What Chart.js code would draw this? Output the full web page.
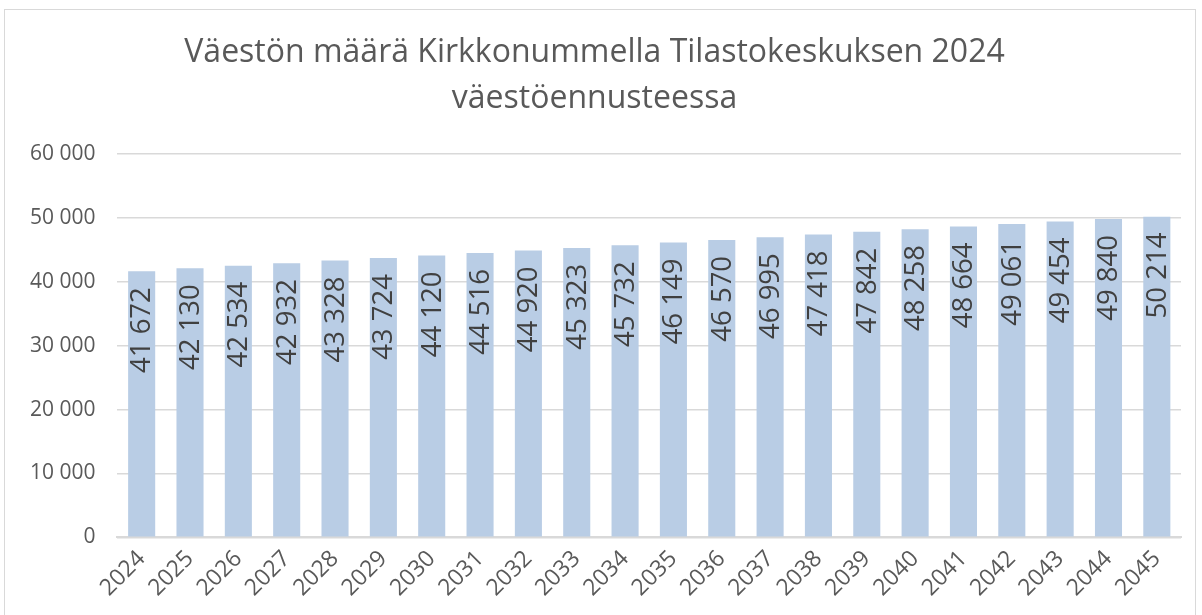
<!DOCTYPE html>
<html>
<head>
<meta charset="utf-8">
<script src="https://cdn.jsdelivr.net/npm/chart.js@4.4.1/dist/chart.umd.min.js"></script>
<style>
  body { margin: 0; background: #fff; }
  #wrap { position: relative; width: 1202px; height: 615px; }
  #frame { position: absolute; left: 4px; top: 9px; width: 1192px; height: 620px; border: 1px solid #D9D9D9; box-sizing: border-box; }
  canvas { position: absolute; left: 0; top: 0; }
</style>
</head>
<body>
<div id="wrap">
  <div id="frame"></div>
  <canvas id="chart" width="1202" height="615"></canvas>
</div>
<script>
// ===== Data =====
const years = [
  '2024', '2025', '2026', '2027', '2028', '2029', '2030', '2031', '2032', '2033', '2034',
  '2035', '2036', '2037', '2038', '2039', '2040', '2041', '2042', '2043', '2044', '2045'
];
const population = [
  41672, 42130, 42534, 42932, 43328, 43724, 44120, 44516, 44920, 45323, 45732,
  46149, 46570, 46995, 47418, 47842, 48258, 48664, 49061, 49454, 49840, 50214
];
const titleLines = ['Väestön määrä Kirkkonummella Tilastokeskuksen 2024', 'väestöennusteessa'];

const textGrey = '#595959';
const fontName = "'Open Sans', 'Liberation Sans', sans-serif";

// thousands with a space, like the original
function fmt(n) {
  return String(n).replace(/\B(?=(\d{3})+(?!\d))/g, ' ');
}

// ===== Rotated labels inside the bars =====
const barLabels = {
  id: 'barLabels',
  afterDatasetsDraw(chart) {
    const ctx = chart.ctx;
    const meta = chart.getDatasetMeta(0);
    ctx.save();
    ctx.fillStyle = '#404040';
    ctx.font = `27.5px ${fontName}`;
    ctx.textAlign = 'right';
    ctx.textBaseline = 'middle';
    meta.data.forEach((bar, i) => {
      ctx.save();
      ctx.translate(bar.x + 1, bar.y + 16);
      ctx.rotate(-Math.PI / 2);
      ctx.fillText(fmt(population[i]), 0, 0);
      ctx.restore();
    });
    ctx.restore();
  }
};

const ctx = document.getElementById('chart').getContext('2d');
new Chart(ctx, {
  type: 'bar',
  data: {
    labels: years,
    datasets: [{
      data: population,
      backgroundColor: '#B9CDE5',
      categoryPercentage: 1,
      barPercentage: 0.56
    }]
  },
  options: {
    responsive: false,
    animation: false,
    layout: { padding: { left: 8, right: 21, top: 20, bottom: 5 } },
    plugins: {
      legend: { display: false },
      tooltip: { enabled: false },
      title: {
        display: true,
        text: titleLines,
        color: textGrey,
        font: { family: fontName, size: 32, weight: 'normal', lineHeight: 1.44 },
        padding: { top: 10, bottom: 32 }
      }
    },
    scales: {
      x: {
        grid: { display: false, drawTicks: false },
        border: { color: '#D9D9D9', width: 2 },
        ticks: {
          color: textGrey,
          font: { family: fontName, size: 23 },
          minRotation: 45,
          maxRotation: 45,
          padding: 8
        }
      },
      y: {
        min: 0,
        max: 60000,
        grid: { color: '#D9D9D9', lineWidth: 1.5, drawTicks: false },
        border: { display: false },
        ticks: {
          stepSize: 10000,
          color: textGrey,
          font: { family: fontName, size: 21 },
          padding: 22,
          callback: v => fmt(v)
        }
      }
    }
  },
  plugins: [barLabels]
});
</script>
</body>
</html>
